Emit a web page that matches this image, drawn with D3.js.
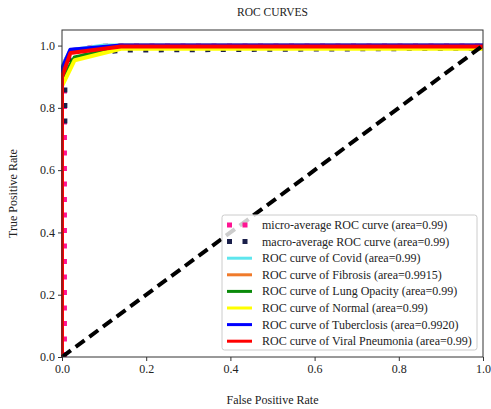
<!DOCTYPE html>
<html>
<head>
<meta charset="utf-8">
<script src="https://cdn.jsdelivr.net/npm/d3@7"></script>
<style>
  body { margin: 0; background: #fff; }
  text { font-family: "Liberation Serif", "DejaVu Serif", serif; fill: #222; }
</style>
</head>
<body>
<div id="chart"></div>
<script>
var width = 491, height = 409;
var margin = {top: 30, right: 8, bottom: 52, left: 62};
var plotW = width - margin.left - margin.right,
    plotH = height - margin.top - margin.bottom;

var xTicks = [0.0, 0.2, 0.4, 0.6, 0.8, 1.0];
var yTicks = [0.0, 0.2, 0.4, 0.6, 0.8, 1.0];

// curves
var microFpr = [0.007, 0.007, 0.02, 0.08, 0.14, 1.0];
var microTpr = [0.0, 0.95, 0.985, 0.998, 1.002, 1.002];
var macroFpr = [0.008, 0.008, 0.02, 0.08, 0.15, 1.0];
var macroTpr = [0.75, 0.90, 0.96, 0.975, 0.984, 0.99];
var covidFpr = [0.0, 0.0, 0.02, 0.10, 1.0];
var covidTpr = [0.0, 0.93, 0.985, 1.0, 1.0];
var fibrosisFpr = [0.0, 0.0, 0.02, 0.14, 1.0];
var fibrosisTpr = [0.0, 0.92, 0.98, 1.0, 1.0];
var lungFpr = [0.0, 0.0, 0.03, 0.14, 1.0];
var lungTpr = [0.0, 0.89, 0.962, 0.995, 0.995];
var normalFpr = [0.0, 0.0, 0.03, 0.14, 1.0];
var normalTpr = [0.0, 0.87, 0.953, 0.99, 0.99];
var tuberFpr = [0.0, 0.0, 0.02, 0.14, 1.0];
var tuberTpr = [0.0, 0.925, 0.987, 1.0, 1.0];
var viralFpr = [0.0, 0.0, 0.02, 0.14, 1.0];
var viralTpr = [0.0, 0.90, 0.976, 0.997, 0.997];

var labels = ["micro-average ROC curve (area=0.99)",
              "macro-average ROC curve (area=0.99)",
              "ROC curve of Covid (area=0.99)",
              "ROC curve of Fibrosis (area=0.9915)",
              "ROC curve of Lung Opacity (area=0.99)",
              "ROC curve of Normal (area=0.99)",
              "ROC curve of Tuberclosis (area=0.9920)",
              "ROC curve of Viral Pneumonia (area=0.99)"];

var series = [
  {fpr: microFpr, tpr: microTpr, color: "deeppink", dash: "5,10.5"},
  {fpr: macroFpr, tpr: macroTpr, color: "#1a1f4a", dash: "5,10.5"},
  {fpr: covidFpr, tpr: covidTpr, color: "#5ee6ee", dash: null},
  {fpr: fibrosisFpr, tpr: fibrosisTpr, color: "#f07a2a", dash: null},
  {fpr: lungFpr, tpr: lungTpr, color: "#0a8a0a", dash: null},
  {fpr: normalFpr, tpr: normalTpr, color: "#ffff00", dash: null},
  {fpr: tuberFpr, tpr: tuberTpr, color: "#0000ff", dash: null},
  {fpr: viralFpr, tpr: viralTpr, color: "#ff0000", dash: null}
];

var x = d3.scaleLinear().domain([0, 1]).range([0, plotW]);
var y = d3.scaleLinear().domain([0, 1.05]).range([plotH, 0]);

var svg = d3.select("#chart").append("svg")
    .attr("width", width)
    .attr("height", height);

svg.append("text")
    .attr("x", margin.left + plotW / 2)
    .attr("y", 16)
    .attr("text-anchor", "middle")
    .style("font-size", "11.5px")
    .text("ROC CURVES");

var g = svg.append("g")
    .attr("transform", "translate(" + margin.left + "," + margin.top + ")");

g.append("clipPath").attr("id", "clip")
  .append("rect").attr("x", -1).attr("width", plotW + 1).attr("height", plotH);

var plot = g.append("g").attr("clip-path", "url(#clip)");

var line = d3.line()
    .x(function(d) { return x(d[0]); })
    .y(function(d) { return y(d[1]); });

series.forEach(function(s) {
    var pts = s.fpr.map(function(f, i) { return [f, s.tpr[i]]; });
    plot.append("path")
        .attr("d", line(pts))
        .attr("fill", "none")
        .attr("stroke", s.color)
        .attr("stroke-width", 4)
        .attr("stroke-dasharray", s.dash)
        .attr("stroke-linejoin", "round");
});

// chance line
plot.append("path")
    .attr("d", line([[0, 0], [1, 1]]))
    .attr("fill", "none")
    .attr("stroke", "#000")
    .attr("stroke-width", 4)
    .attr("stroke-dasharray", "11,6");

// axes
var xAxis = d3.axisBottom(x).tickValues(xTicks).tickFormat(d3.format(".1f")).tickSize(4).tickPadding(3);
var yAxis = d3.axisLeft(y).tickValues(yTicks).tickFormat(d3.format(".1f")).tickSize(4).tickPadding(3);

var gx = g.append("g").attr("transform", "translate(0," + plotH + ")").call(xAxis);
var gy = g.append("g").call(yAxis);
[gx, gy].forEach(function(a) {
    a.select(".domain").remove();
    a.selectAll("line").attr("stroke", "#333");
    a.selectAll("text").style("font-size", "12px").style("font-family", "Liberation Serif").attr("fill", "#222");
});

g.append("rect")
    .attr("width", plotW)
    .attr("height", plotH)
    .attr("fill", "none")
    .attr("stroke", "#333")
    .attr("stroke-width", 1);

svg.append("text")
    .attr("x", margin.left + plotW / 2)
    .attr("y", 404)
    .attr("text-anchor", "middle")
    .style("font-size", "12px")
    .text("False Positive Rate");

svg.append("text")
    .attr("transform", "translate(17," + (margin.top + plotH / 2) + ") rotate(-90)")
    .attr("text-anchor", "middle")
    .style("font-size", "12px")
    .text("True Positive Rate");

// legend
var lgX = 222, lgY = 215, rowH = 16.6;
var legend = svg.append("g").attr("transform", "translate(" + lgX + "," + lgY + ")");
legend.append("rect")
    .attr("width", 255)
    .attr("height", 135)
    .attr("rx", 2.5)
    .attr("fill", "rgba(255,255,255,0.8)")
    .attr("stroke", "#ccc");

series.forEach(function(s, i) {
    var yy = 10 + i * rowH;
    legend.append("line")
        .attr("x1", 5).attr("x2", s.dash ? 33 : 30)
        .attr("y1", yy).attr("y2", yy)
        .attr("stroke", s.color)
        .attr("stroke-width", s.dash ? 5 : 3)
        .attr("stroke-dasharray", s.dash);
    legend.append("text")
        .attr("x", 40)
        .attr("y", yy + 4)
        .style("font-size", "12px")
        .text(labels[i]);
});
</script>
</body>
</html>
